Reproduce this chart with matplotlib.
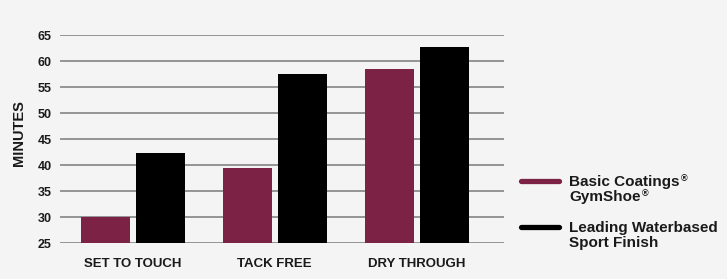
import matplotlib.pyplot as plt
from matplotlib.lines import Line2D
import numpy as np

# ---------------- DATA ---------------- #
categories = ["SET TO TOUCH", "TACK FREE", "DRY THROUGH"]
basic_gymshoe = [30.0, 39.5, 58.5]
leading_waterbased = [42.4, 57.5, 62.7]
y_ticks = [25, 30, 35, 40, 45, 50, 55, 60, 65]
# each legend line: (text, has registered mark)
series_names = [[("Basic Coatings", True), ("GymShoe", True)],
                [("Leading Waterbased", False), ("Sport Finish", False)]]

# ---------------- STYLE ---------------- #
bg = "#f4f4f4"
maroon = "#7b2245"
black = "#000000"
text_col = "#1a1a1a"
grid_col = "#7a7a7a"
plt.rcParams["font.family"] = ["Liberation Sans Narrow", "Liberation Sans", "DejaVu Sans"]
plt.rcParams["font.weight"] = "bold"
plt.rcParams["axes.labelweight"] = "bold"

W, H = 727, 279
fig = plt.figure(figsize=(W / 100, H / 100), dpi=100, facecolor=bg)
ax = fig.add_axes([60 / W, (H - 243) / H, (504 - 60) / W, (243 - 35) / H])
ax.set_facecolor(bg)

x = np.arange(len(categories))
width = 0.3457
off = 0.194

ax.bar(x - off, basic_gymshoe, width, color=maroon, zorder=3)
ax.bar(x + off, leading_waterbased, width, color=black, zorder=3)

ax.set_xlim(-0.515, 2.617)
ax.set_ylim(25, 65)
ax.set_yticks(y_ticks)
ax.set_xticks(x)
ax.set_xticklabels(categories)
ax.yaxis.grid(True, color=grid_col, linewidth=1.1, zorder=0)
ax.set_axisbelow(True)
for s in ax.spines.values():
    s.set_visible(False)
ax.tick_params(axis="both", length=0, colors=text_col)
ax.tick_params(axis="y", labelsize=9, pad=6)
ax.tick_params(axis="x", labelsize=9.5, pad=11)

ax.set_ylabel("MINUTES", fontsize=10.5, color=text_col)
ax.yaxis.set_label_coords(-33.5 / 444, 0.53)

# ---------------- LEGEND ---------------- #
renderer = fig.canvas.get_renderer()
legend_y = [181, 227]
for lines, col, yy in zip(series_names, [maroon, black], legend_y):
    fig.add_artist(Line2D([521 / W, 559 / W], [(H - yy) / H] * 2,
                          color=col, linewidth=3.8, solid_capstyle="round"))
    for i, (line, reg) in enumerate(lines):
        base = H - (yy + 5 + 15.5 * i)
        t = fig.text(569 / W, base / H, line, fontsize=11,
                     color=text_col, va="baseline", ha="left")
        if reg:
            bb = t.get_window_extent(renderer)
            fig.text((bb.x1 + 1) / W, (base + 5) / H, "®", fontsize=6.5,
                     color=text_col, va="baseline", ha="left")

fig.savefig("out.png", dpi=100, facecolor=bg)
